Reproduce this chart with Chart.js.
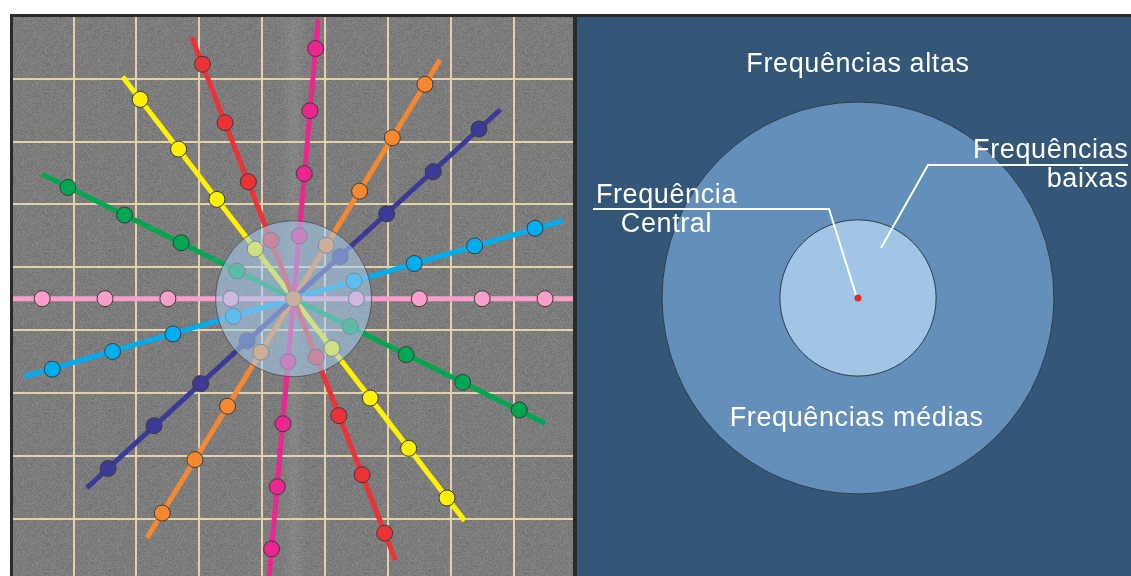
<!DOCTYPE html>
<html><head><meta charset="utf-8">
<script src="https://cdn.jsdelivr.net/npm/chart.js@4.4.1/dist/chart.umd.min.js"></script>
<style>
html,body{margin:0;padding:0;background:#fff;width:1131px;height:576px;overflow:hidden;}
#frame{position:absolute;left:10px;top:14px;width:1121px;height:562px;background:#2a2a2a;}
#lw{position:absolute;left:13px;top:17px;width:560px;height:559px;}
#rw{position:absolute;left:577px;top:17px;width:554px;height:559px;}
canvas{display:block}
</style></head><body>
<div id="frame"></div>
<div id="lw"><canvas id="left" width="560" height="559"></canvas></div>
<div id="rw"><canvas id="right" width="554" height="559"></canvas></div>
<script>
// ---------- DATA (grid units, origin at spectrum centre) ----------
const lineNames  = ['rosa','ciano','azul','laranja','magenta','vermelho','amarelo','verde'];
const lineColors = ['#f99dcb','#00aeef','#3b3a96','#f7882f','#ec268f','#ed3237','#fff200','#00a651'];
const lineSegments = [
  [[-4.5,0],[4.5,0]],
  [[-4.28,-1.24],[4.28,1.24]],
  [[-3.29,-3.01],[3.29,3.01]],
  [[-2.33,-3.80],[2.33,3.80]],
  [[-0.39,-4.44],[0.39,4.44]],
  [[1.62,-4.16],[-1.62,4.16]],
  [[2.72,-3.53],[-2.72,3.53]],
  [[4.00,-1.98],[-4.00,1.98]]
];
const lineDots = [
  [[-4,0],[-3,0],[-2,0],[-1,0],[1,0],[2,0],[3,0],[4,0]],
  [[-3.84,-1.12],[-2.88,-0.84],[-1.92,-0.56],[-0.96,-0.28],[0.96,0.28],[1.92,0.56],[2.88,0.84],[3.84,1.12]],
  [[-2.95,-2.70],[-2.22,-2.02],[-1.48,-1.35],[-0.74,-0.67],[0.74,0.67],[1.48,1.35],[2.22,2.02],[2.95,2.70]],
  [[-2.09,-3.41],[-1.57,-2.56],[-1.05,-1.71],[-0.52,-0.85],[0.52,0.85],[1.05,1.71],[1.57,2.56],[2.09,3.41]],
  [[-0.35,-3.98],[-0.26,-2.99],[-0.17,-1.99],[-0.09,-1.00],[0.09,1.00],[0.17,1.99],[0.26,2.99],[0.35,3.98]],
  [[1.45,-3.73],[1.09,-2.80],[0.72,-1.86],[0.36,-0.93],[-0.36,0.93],[-0.72,1.86],[-1.09,2.80],[-1.45,3.73]],
  [[2.44,-3.17],[1.83,-2.38],[1.22,-1.58],[0.61,-0.79],[-0.61,0.79],[-1.22,1.58],[-1.83,2.38],[-2.44,3.17]],
  [[3.59,-1.77],[2.69,-1.33],[1.79,-0.89],[0.90,-0.44],[-0.90,0.44],[-1.79,0.89],[-2.69,1.33],[-3.59,1.77]]
];
const centrePoint = [[0,0]];
const gridVals = [-4.5,-3.5,-2.5,-1.5,-0.5,0.5,1.5,2.5,3.5,4.5];
const lowRadius = 1.24;   // raio das frequências baixas
const midRadius = 3.11;   // raio das frequências médias
const labelTexts = ['Frequências altas','Frequências médias','Frequência','Central','Frequências','baixas'];
const centralLeader = [[-4.206,1.413],[-0.460,1.413],[-0.016,0]];
const lowLeader = [[4.286,2.111],[1.111,2.111],[0.365,0.794]];

// ---------- helpers ----------
const toXY = a => a.map(p => ({x:p[0], y:p[1]}));
const radiusPx = r => ctx => {
  const s = ctx.chart.scales.x;
  return Math.abs(s.getPixelForValue(r) - s.getPixelForValue(0));
};

// noise texture for the spectrum background (decorative)
function makeNoise(){
  const c = document.createElement('canvas'); c.width = 160; c.height = 160;
  const g = c.getContext('2d'); const img = g.createImageData(160,160);
  for (let y=0;y<160;y++) for (let x=0;x<160;x++){
    const h = Math.sin(x*12.9898 + y*78.233) * 43758.5453;
    const f = h - Math.floor(h);
    const h2 = Math.sin(x*3.17 + y*9.71) * 1375.13;
    const f2 = h2 - Math.floor(h2);
    let v = 125 + (f-0.5)*22 + (f2-0.5)*8;
    if (f > 0.96) v -= 20;
    const i = (y*160+x)*4;
    img.data[i]=v; img.data[i+1]=v; img.data[i+2]=v; img.data[i+3]=255;
  }
  g.putImageData(img,0,0);
  return c;
}

const spectrumBg = {
  id:'spectrumBg',
  beforeDraw(chart){
    const {ctx, width, height} = chart;
    ctx.save();
    ctx.fillStyle = ctx.createPattern(makeNoise(),'repeat');
    ctx.fillRect(0,0,width,height);
    const cx = chart.scales.x.getPixelForValue(0);
    const gr = ctx.createLinearGradient(cx-12,0,cx+12,0);
    gr.addColorStop(0,'rgba(255,255,255,0)');
    gr.addColorStop(0.5,'rgba(255,255,255,0.08)');
    gr.addColorStop(1,'rgba(255,255,255,0)');
    ctx.fillStyle = gr; ctx.fillRect(cx-12,0,24,height);
    ctx.restore();
  }
};

// ---------- LEFT: spectrum with radial lines ----------
const leftSets = [];
leftSets.push({
  data: toXY(centrePoint), pointRadius: radiusPx(lowRadius),
  backgroundColor:'rgba(170,205,240,0.55)', borderColor:'rgba(70,70,70,0.75)', borderWidth:1, order:0
});
leftSets.push({
  data: toXY(centrePoint), pointRadius:8, backgroundColor:'#ee8c3e', borderColor:'#555', borderWidth:1, order:1
});
lineNames.forEach((n,i) => {
  leftSets.push({label:n+' pontos', data: toXY(lineDots[i]), pointRadius:8,
    backgroundColor: lineColors[i], borderColor:'#3a3a3a', borderWidth:1, order:2});
});
lineNames.forEach((n,i) => {
  leftSets.push({label:n, data: toXY(lineSegments[i]), showLine:true, pointRadius:0,
    borderColor: lineColors[i], borderWidth:5, order:3});
});

const gridScale = (min,max) => ({
  type:'linear', min, max,
  afterBuildTicks: s => { s.ticks = gridVals.map(v => ({value:v})); },
  ticks:{display:false},
  grid:{color:'#e3d2a9', lineWidth:2, drawTicks:false},
  border:{display:false}
});

new Chart(document.getElementById('left'), {
  type:'scatter',
  data:{datasets:leftSets},
  options:{
    responsive:false, animation:false, events:[],
    layout:{padding:0, autoPadding:false},
    plugins:{legend:{display:false}, tooltip:{enabled:false}},
    scales:{ x: gridScale(-4.464,4.445), y: gridScale(-4.411,4.481) }
  },
  plugins:[spectrumBg]
});

// ---------- RIGHT: frequency bands diagram ----------
const textPlacements = [
  {x:0, y:3.587, align:'center'},
  {x:-0.02, y:-2.03, align:'center'},
  {x:-3.04, y:1.508, align:'center'},
  {x:-3.04, y:1.048, align:'center'},
  {x:4.29, y:2.222, align:'right'},
  {x:4.29, y:1.762, align:'right'}
];
const bandBg = {
  id:'bandBg',
  beforeDraw(chart){
    const {ctx,width,height} = chart;
    ctx.save(); ctx.fillStyle = '#345677'; ctx.fillRect(0,0,width,height); ctx.restore();
  },
  afterDatasetsDraw(chart){
    const {ctx} = chart; const sx = chart.scales.x, sy = chart.scales.y;
    ctx.save();
    ctx.fillStyle = '#ffffff';
    ctx.font = '27px "Liberation Sans", Arial, sans-serif';
    ctx.letterSpacing = '0.6px';
    ctx.textBaseline = 'alphabetic';
    labelTexts.forEach((t,i) => {
      const p = textPlacements[i];
      ctx.textAlign = p.align;
      ctx.fillText(t, sx.getPixelForValue(p.x), sy.getPixelForValue(p.y));
    });
    ctx.restore();
  }
};

new Chart(document.getElementById('right'), {
  type:'scatter',
  data:{datasets:[
    {label:'Frequência central', data: toXY(centrePoint), pointRadius:3.5, backgroundColor:'#e8262b', borderWidth:0, order:0},
    {label:'guia central', data: toXY(centralLeader), showLine:true, pointRadius:0, borderColor:'#ffffff', borderWidth:2, order:1},
    {label:'guia baixas', data: toXY(lowLeader), showLine:true, pointRadius:0, borderColor:'#ffffff', borderWidth:2, order:1},
    {label:'Frequências baixas', data: toXY(centrePoint), pointRadius: radiusPx(lowRadius), backgroundColor:'#a1c5e5', borderColor:'#2f3b48', borderWidth:1, order:2},
    {label:'Frequências médias', data: toXY(centrePoint), pointRadius: radiusPx(midRadius), backgroundColor:'#638fba', borderColor:'#2f3b48', borderWidth:1, order:3}
  ]},
  options:{
    responsive:false, animation:false, events:[],
    layout:{padding:0, autoPadding:false},
    plugins:{legend:{display:false}, tooltip:{enabled:false}},
    scales:{
      x:{type:'linear', min:-4.460, max:4.333, display:false},
      y:{type:'linear', min:-4.413, max:4.460, display:false}
    }
  },
  plugins:[bandBg]
});
</script>
</body></html>
